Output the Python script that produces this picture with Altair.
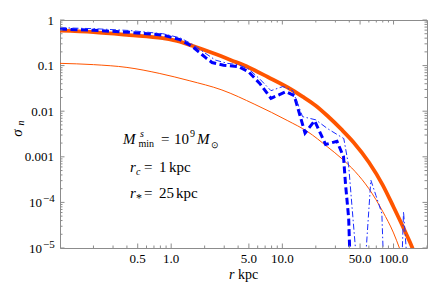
import altair as alt
import pandas as pd

SERIF = "Liberation Serif, Times New Roman, serif"
FRAME = "#8c8c8c"
ORANGE = "#FF5500"
BLUE = "#0000FF"
W, H = 367, 228

# ---------------- data ----------------
r_orange_thick = [0.1, 0.2, 0.42, 0.84, 1.2, 1.55, 2.33, 3.5, 5, 7.4, 11.2, 15.2, 20, 25.4,
                  34, 43.6, 60, 80, 100, 125, 150, 165]
s_orange_thick = [0.583, 0.543, 0.468, 0.398, 0.335, 0.272, 0.191, 0.130, 0.0912, 0.0562,
                  0.0331, 0.0209, 0.0132, 0.00794, 0.00398, 0.00209, 0.000759, 0.00024,
                  7.94e-5, 2.51e-5, 9.1e-6, 4.5e-6]

r_orange_thin = [0.1, 0.2, 0.4, 0.78, 1.45, 2.86, 5.66, 11.2, 16.9, 25.4, 34.6, 45, 60, 80,
                 100, 113, 125]
s_orange_thin = [0.112, 0.105, 0.0912, 0.0676, 0.0468, 0.0292, 0.0141, 0.00617, 0.00355,
                 0.00166, 0.000891, 0.000479, 0.0002, 6.31e-5, 2.14e-5, 1e-5, 5e-6]

r_blue_thick = [0.1, 0.2, 0.42, 0.84, 1.2, 1.55, 1.77, 2.03, 2.33, 2.96, 4.0, 4.94, 6.26, 7.9,
                10.8, 12.8, 16.0, 19.5, 24.5, 31, 35.5, 37, 39.5, 40.3, 41]
s_blue_thick = [0.631, 0.596, 0.537, 0.468, 0.372, 0.263, 0.2, 0.151, 0.117, 0.102, 0.0955,
                0.0741, 0.0407, 0.0191, 0.0269, 0.0219, 0.00331, 0.00617, 0.00186, 0.00219,
                0.001, 0.000251, 4.47e-5, 9.5e-6, 1e-8]

r_blue_thin = [0.1, 0.2, 0.42, 0.84, 1.2, 1.55, 2.0, 2.5, 3.2, 4.0, 5.0, 6.3, 7.9, 10.1, 12.4,
               15.2, 20, 25.4, 35.7, 39.5, 43, 45.5, 46.5, 56, 56.8, 62.5, 69.5, 78.5, 80.5,
               81.5, 119, 120, 123, 130, 131]
s_blue_thin = [0.676, 0.646, 0.589, 0.501, 0.407, 0.295, 0.191, 0.132, 0.112, 0.105, 0.0832,
               0.0501, 0.0282, 0.0347, 0.0282, 0.00759, 0.00646, 0.00417, 0.00251, 0.000631,
               5.01e-5, 9.5e-6, 1e-8, 1e-8, 9.5e-6, 0.000309, 0.000141, 5.75e-5, 9.5e-6,
               1e-8, 1e-8, 9.5e-6, 6.31e-5, 9.5e-6, 1e-8]

x_tick_major = [0.5, 1, 5, 10, 50, 100]
x_tick_labels = ["0.5", "1.0", "5.0", "10.0", "50.0", "100.0"]
x_tick_minor = [0.2, 0.3, 0.4, 0.6, 0.7, 0.8, 0.9, 2, 3, 4, 6, 7, 8, 9,
                20, 30, 40, 60, 70, 80, 90, 200]
y_tick_major = [1, 0.1, 0.01, 0.001, 1e-4, 1e-5]
y_dec_labels = ["1", "0.1", "0.01", "0.001"]
y_pow_exps = ["\u22124", "\u22125"]
y_tick_minor = [m * 10.0 ** e for e in range(-5, 0) for m in range(2, 10)]

xs = alt.Scale(type="log", domain=[0.1, 200], nice=False)
ys = alt.Scale(type="log", domain=[1e-5, 1], nice=False)


def curve(r, s, **mk):
    df = pd.DataFrame({"r": r, "s": s})
    return alt.Chart(df).mark_line(clip=True, **mk).encode(
        x=alt.X("r:Q", scale=xs, axis=None),
        y=alt.Y("s:Q", scale=ys, axis=None),
    )


def xticks(vals, L):
    base = alt.Chart(pd.DataFrame({"v": vals}))
    b = base.mark_rule(color=FRAME, strokeWidth=1).encode(
        x=alt.X("v:Q", scale=xs, axis=None), y=alt.value(H), y2=alt.value(H - L))
    t = base.mark_rule(color=FRAME, strokeWidth=1).encode(
        x=alt.X("v:Q", scale=xs, axis=None), y=alt.value(0), y2=alt.value(L))
    return [b, t]


def yticks(vals, L):
    base = alt.Chart(pd.DataFrame({"v": vals}))
    l = base.mark_rule(color=FRAME, strokeWidth=1).encode(
        y=alt.Y("v:Q", scale=ys, axis=None), x=alt.value(0), x2=alt.value(L))
    r = base.mark_rule(color=FRAME, strokeWidth=1).encode(
        y=alt.Y("v:Q", scale=ys, axis=None), x=alt.value(W), x2=alt.value(W - L))
    return [l, r]


def txt(s, x, y, size=15, style="normal", align="left", angle=0):
    mk = dict(text=s, font=SERIF, fontSize=size, fontStyle=style, align=align,
              baseline="alphabetic", color="black")
    if angle:
        mk["angle"] = angle
    return alt.Chart(alt.Data(values=[{}])).mark_text(**mk).encode(
        x=alt.value(x), y=alt.value(y))


layers = []
layers.append(curve(r_orange_thin, s_orange_thin, color=ORANGE, strokeWidth=1,
                    interpolate="monotone"))
layers.append(curve(r_orange_thick, s_orange_thick, color=ORANGE, strokeWidth=3.8,
                    interpolate="monotone"))
layers.append(curve(r_blue_thick, s_blue_thick, color=BLUE, strokeWidth=3,
                    strokeDash=[7, 3.5]))
layers.append(curve(r_blue_thin, s_blue_thin, color="#1a2cff", strokeWidth=1,
                    strokeDash=[6, 2.5, 1.5, 2.5]))

layers += xticks(x_tick_major, 4.5) + xticks(x_tick_minor, 2.5)
layers += yticks(y_tick_major, 4.5) + yticks(y_tick_minor, 2.5)

# tick labels
layers.append(alt.Chart(pd.DataFrame({"v": x_tick_major, "t": x_tick_labels})).mark_text(
    font=SERIF, fontSize=13, align="center", baseline="alphabetic", color="black").encode(
    x=alt.X("v:Q", scale=xs, axis=None), y=alt.value(H + 15), text="t:N"))
layers.append(alt.Chart(pd.DataFrame({"v": y_tick_major[:4], "t": y_dec_labels})).mark_text(
    font=SERIF, fontSize=13, align="right", baseline="alphabetic", dy=4.5, color="black").encode(
    y=alt.Y("v:Q", scale=ys, axis=None), x=alt.value(-6), text="t:N"))
pow_df = pd.DataFrame({"v": y_tick_major[4:], "t": ["10", "10"], "e": y_pow_exps})
layers.append(alt.Chart(pow_df).mark_text(
    font=SERIF, fontSize=13, align="right", baseline="alphabetic", dy=4.5, color="black").encode(
    y=alt.Y("v:Q", scale=ys, axis=None), x=alt.value(-18), text="t:N"))
layers.append(alt.Chart(pow_df).mark_text(
    font=SERIF, fontSize=11, align="left", baseline="alphabetic", dy=0, color="black").encode(
    y=alt.Y("v:Q", scale=ys, axis=None), x=alt.value(-17), text="e:N"))

# axis titles
layers.append(txt("\u03c3", -38, 113, size=15, style="italic", align="center", angle=270))
layers.append(txt("n", -36, 103, size=10, style="italic", align="center", angle=270))
layers.append(txt("r", 169, 259, size=14, style="italic"))
layers.append(txt("kpc", 178, 259, size=14))

# annotation
layers += [
    txt("M", 63, 124, style="italic"),
    txt("s", 80, 117, size=10, style="italic"),
    txt("min", 78.5, 127, size=10),
    txt("=", 101, 124),
    txt("10", 114, 124),
    txt("9", 130, 117, size=10),
    txt("M", 137, 124, style="italic"),
    txt("\u2299", 151, 128, size=9),
    txt("r", 70, 152, style="italic"),
    txt("c", 76, 155, size=10, style="italic"),
    txt("=", 84, 152),
    txt("1", 99, 152),
    txt("kpc", 109, 152),
    txt("r", 70, 178, style="italic"),
    txt("*", 76, 182, size=12),
    txt("=", 84, 178),
    txt("25", 99, 178),
    txt("kpc", 116, 178),
]

chart = alt.layer(*layers).properties(
    width=W, height=H,
    autosize=alt.AutoSizeParams(type="none"),
    padding={"left": 52, "top": 12, "right": 1, "bottom": 34},
).configure_view(stroke=FRAME, strokeWidth=1)

chart.save("out.html", embed_options={"renderer": "svg", "actions": False})
